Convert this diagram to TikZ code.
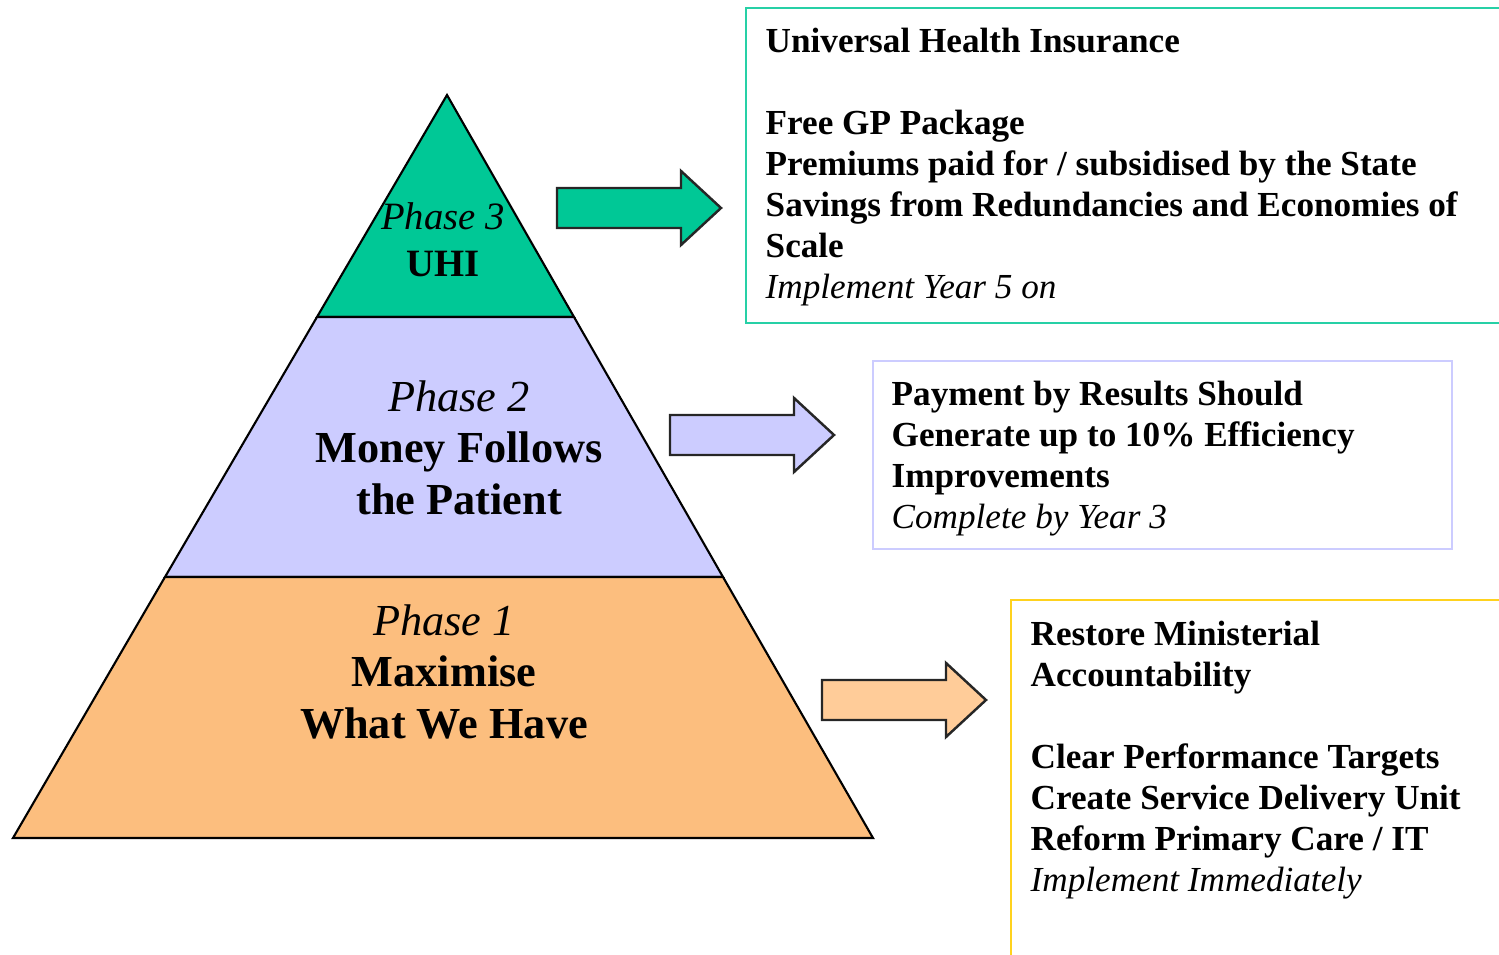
\documentclass[tikz,border=0pt]{standalone}
\usepackage{fontspec}
\setmainfont{Liberation Serif}

\definecolor{uhigreen}{RGB}{0,200,150}
\definecolor{mfplilac}{RGB}{204,204,255}
\definecolor{mwhorange}{RGB}{252,190,126}
\definecolor{arrowpeach}{RGB}{255,204,153}
\definecolor{boxyellow}{RGB}{255,210,30}

\begin{document}
\begin{tikzpicture}
  [x=0.01cm,y=-0.01cm,
   band/.style={draw=black,line width=0.6pt},
   blockarrow/.style={draw=black!85,line width=0.7pt},
   phase/.style={align=center,inner sep=0pt,anchor=north,font=\fontsize{12.6}{14.6}\selectfont\bfseries},
   notes/.style={align=left,inner sep=0pt,anchor=north west,font=\fontsize{10}{11.7}\selectfont\bfseries},
   notebox/.style={line width=0.8pt}]
  \useasboundingbox (0,0) rectangle (1499,955);

  % pyramid
  \filldraw[band,fill=uhigreen] (447,95) -- (574,317) -- (317,317) -- cycle;
  \filldraw[band,fill=mfplilac] (317,317) -- (574,317) -- (723,577) -- (165,577) -- cycle;
  \filldraw[band,fill=mwhorange] (165,577) -- (723,577) -- (873,838) -- (13,838) -- cycle;

  \node[phase,font=\fontsize{11}{13.4}\selectfont\bfseries] (uhi) at (443,202) {{\mdseries\itshape Phase 3}\\UHI};
  \node[phase] (mfp) at (459,380) {{\mdseries\itshape Phase 2}\\Money Follows\\the Patient};
  \node[phase] (mwh) at (444,604) {{\mdseries\itshape Phase 1}\\Maximise\\What We Have};

  % block arrows
  \foreach \ax/\ay/\col in {557/208/uhigreen, 670/435/mfplilac, 822/700/arrowpeach}
    \filldraw[blockarrow,fill=\col] (\ax,\ay-20) -- ++(124,0) -- ++(0,-17)
      -- (\ax+164,\ay) -- (\ax+124,\ay+37) -- ++(0,-17) -- (\ax,\ay+20) -- cycle;

  % boxes
  \draw[notebox,draw=uhigreen!85] (746,8) rectangle (1530,323);
  \draw[notebox,draw=mfplilac] (873,361) rectangle (1452,549);
  \draw[notebox,draw=boxyellow] (1011,600) rectangle (1530,980);

  \node[notes] (uhitext) at (765,27) {Universal Health Insurance\\[11.7pt]
    Free GP Package\\Premiums paid for / subsidised by the State\\
    Savings from Redundancies and Economies of\\Scale\\
    {\mdseries\itshape Implement Year 5 on}};
  \node[notes] (mfptext) at (891,380) {Payment by Results Should\\
    Generate up to 10\% Efficiency\\Improvements\\
    {\mdseries\itshape Complete by Year 3}};
  \node[notes] (mwhtext) at (1030,620) {Restore Ministerial\\Accountability\\[11.7pt]
    Clear Performance Targets\\Create Service Delivery Unit\\
    Reform Primary Care / IT\\{\mdseries\itshape Implement Immediately}};
\end{tikzpicture}
\end{document}
